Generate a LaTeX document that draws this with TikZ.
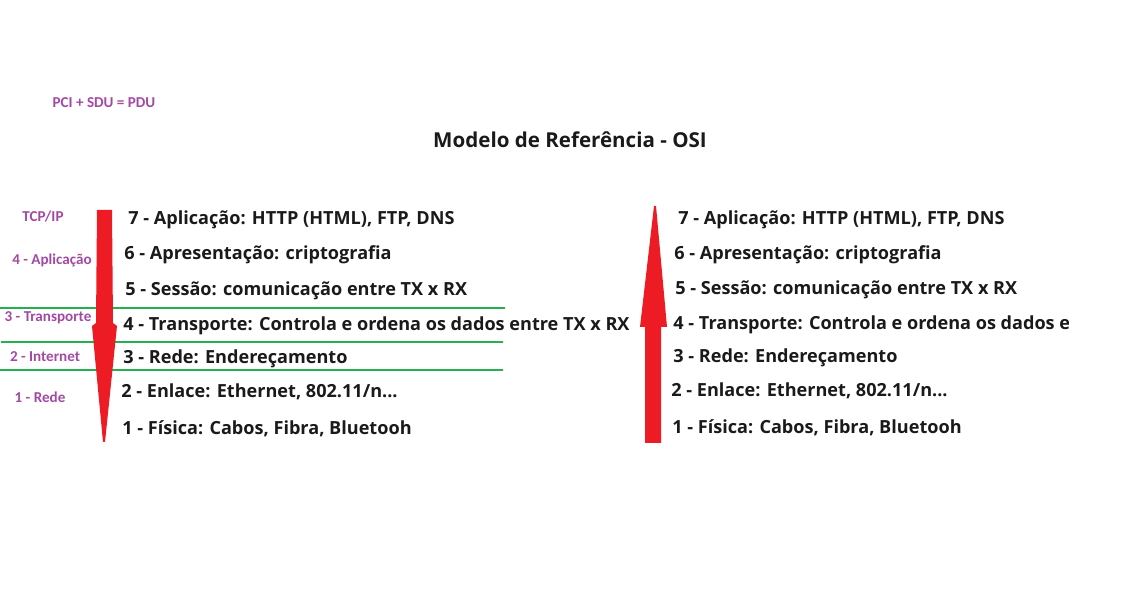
\documentclass[tikz,border=0pt]{standalone}
\usepackage{fontspec}
\setmainfont{Open Sans}
\newfontfamily\tcpfont{Carlito}
\definecolor{paintred}{HTML}{ED1C24}
\definecolor{paintgreen}{HTML}{22B14C}
\definecolor{paintpurple}{HTML}{A349A4}
\definecolor{inkblack}{HTML}{1A1A1A}
\begin{document}
\begin{tikzpicture}[
        x=0.02cm, y=-0.02cm,
        layer/.style={anchor=mid west, inner sep=0pt, text=inkblack, font=\fontsize{10.3}{12}\selectfont\bfseries},
        tcp/.style={inner sep=0pt, text=paintpurple, font=\tcpfont\fontsize{8.6}{10}\selectfont\bfseries},
        title/.style={inner sep=0pt, text=inkblack, font=\fontsize{11.7}{14}\selectfont\bfseries},
        divider/.style={paintgreen, line width=1.2pt},
        flow/.style={fill=paintred, draw=none}
    ]
    \useasboundingbox (0,0) rectangle (1133,597);

    % headings
    \node[tcp] (pdu) at (104,103) {PCI + SDU = PDU};
    \node[title] (osi) at (570,140) {Modelo de Referência - OSI};

    % TCP/IP side
    \node[tcp] (tcpip) at (43,217) {TCP/IP};
    \node[tcp] (tcp4) at (52,260) {4 - Aplicação};
    \node[tcp] (tcp3) at (48,318) {3 - Transporte};
    \node[tcp] (tcp2) at (45,357) {2 - Internet};
    \node[tcp] (tcp1) at (40,397) {1 - Rede};

    % dividers
    \coordinate (d1a) at (0,308);   \coordinate (d1b) at (505,308);
    \coordinate (d2a) at (1,342);   \coordinate (d2b) at (503,342);
    \coordinate (d3a) at (0,370);   \coordinate (d3b) at (503,370);
    \draw[divider] (d1a) -- (d1b);
    \draw[divider] (d2a) -- (d2b);
    \draw[divider] (d3a) -- (d3b);

    % arrows
    \fill[flow] (97,210) -- (112,210) -- (113,323) -- (117,326) -- (105,442) -- (103,442) -- (92,326) -- (96,323) -- cycle;
    \fill[flow] (645,443) -- (661,443) -- (661,327) -- (667,327) -- (656,206) -- (654,206) -- (640,327) -- (645,327) -- cycle;

    % OSI layers, sender
    \node[layer] (tx7) at (128,220) {7 - Aplicação: HTTP (HTML), FTP, DNS};
    \node[layer] (tx6) at (124,255) {6 - Apresentação: criptografia};
    \node[layer] (tx5) at (125,291) {5 - Sessão: comunicação entre TX x RX};
    \node[layer] (tx4) at (123,326) {4 - Transporte: Controla e ordena os dados entre TX x RX};
    \node[layer] (tx3) at (123,359) {3 - Rede: Endereçamento};
    \node[layer] (tx2) at (121,393) {2 - Enlace: Ethernet, 802.11/n...};
    \node[layer] (tx1) at (122,430) {1 - Física: Cabos, Fibra, Bluetooh};

    % OSI layers, receiver
    \node[layer] (rx7) at (678,220) {7 - Aplicação: HTTP (HTML), FTP, DNS};
    \node[layer] (rx6) at (674,255) {6 - Apresentação: criptografia};
    \node[layer] (rx5) at (675,290) {5 - Sessão: comunicação entre TX x RX};
    \begin{scope}
        \clip (600,300) rectangle (1068,345);
        \node[layer] (rx4) at (673,325) {4 - Transporte: Controla e ordena os dados entre TX x RX};
    \end{scope}
    \node[layer] (rx3) at (673,358) {3 - Rede: Endereçamento};
    \node[layer] (rx2) at (671,392) {2 - Enlace: Ethernet, 802.11/n...};
    \node[layer] (rx1) at (672,429) {1 - Física: Cabos, Fibra, Bluetooh};
\end{tikzpicture}
\end{document}
